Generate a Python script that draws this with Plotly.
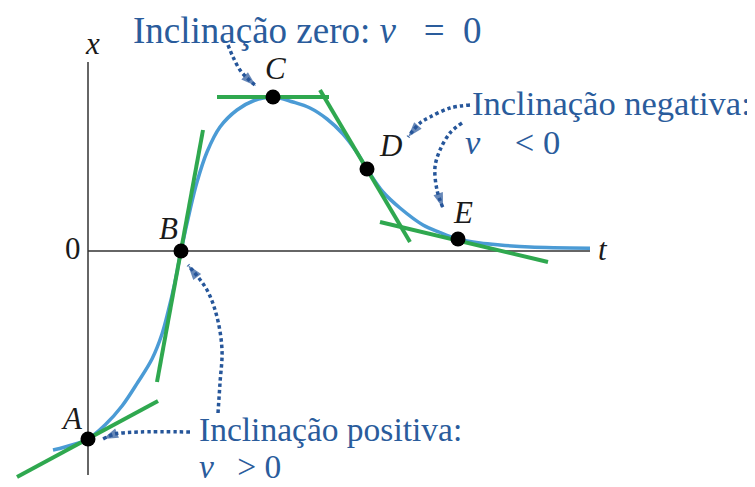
import plotly.graph_objects as go

# ---- data (t, x) in diagram units ----
curve_t = [-3.5, -2.3, 0.0, 1.7, 3.4, 5.0, 6.4, 7.4, 8.0, 8.7, 9.3,
           10.2, 10.9, 11.9, 13.2, 14.9, 16.5, 18.5,
           20.5, 22.2, 23.9, 25.5, 26.9, 27.9, 29.5, 31.2, 33.5, 35.2, 37.0,
           39.2, 41.2, 44.2, 50.2]
curve_x = [-19.9, -19.6, -18.8, -17.4, -15.5, -13.1, -10.8, -8.3, -6.1, -3.1, 0.0,
           4.1, 6.9, 9.9, 12.4, 14.1, 15.0, 15.4,
           14.9, 14.3, 13.2, 11.7, 9.85, 8.2, 5.9, 4.3, 2.6, 1.85, 1.2,
           0.8, 0.6, 0.4, 0.28]

point_names = ["A", "B", "C", "D", "E"]
point_t = [0.0, 9.3, 18.5, 27.9, 37.0]
point_x = [-18.8, 0.0, 15.4, 8.2, 1.2]

# tangent segments: (t0, x0) -> (t1, x1)
tangent_t0 = [-7.1, 6.9, 12.9, 23.2, 29.2]
tangent_x0 = [-22.6, -13.1, 15.4, 16.1, 2.9]
tangent_t1 = [7.0, 11.5, 24.1, 32.2, 46.0]
tangent_x1 = [-15.0, 12.1, 15.4, 0.9, -1.1]

label_t = [-1.6, 8.0, 18.7, 30.2, 37.5]
label_x = [-16.7, 2.3, 18.3, 10.6, 3.9]

arrow_paths = [
    ([14.0, 14.5, 15.2, 15.9, 16.8], [20.6, 19.4, 18.1, 17.3, 16.5]),
    ([38.2, 36.2, 34.2, 33.2, 32.0], [14.6, 14.3, 13.4, 12.8, 11.4]),
    ([37.4, 36.2, 35.2, 34.7, 34.9, 35.5], [12.8, 11.8, 10.1, 8.4, 6.1, 4.3]),
    ([10.2, 5.2, 2.7, 1.5], [-18.1, -18.1, -18.3, -18.8]),
    ([13.0, 13.2, 13.4, 12.9, 11.9, 10.0], [-16.2, -13.2, -9.9, -6.6, -3.9, -1.4]),
]

NB = "\u00a0"
texts = ["Inclinação zero: <i>v</i>" + NB * 3 + "= " + NB + "0",
         "Inclinação negativa:", "<i>v</i>" + NB * 4 + "< 0",
         "Inclinação positiva:", "<i>v</i>" + NB * 2 + "\u2009> 0"]
text_t = [4.3, 38.2, 37.5, 10.9, 10.9]
text_x = [24.3, 14.8, 10.9, -17.8, -23.6]
text_anchor = ["top", "middle", "middle", "middle", "bottom"]
text_size = [37, 34.5, 34.5, 33.5, 33.5]

axis_t_end = 50.2
axis_x_top = 18.9
axis_x_bottom = -22.4

BLUE = "#4b9bd5"
GREEN = "#2fa84f"
TXT = "#2a5c9c"
ARR = "#26569a"
SERIF = "Liberation Serif"

fig = go.Figure()

# axes
fig.add_trace(go.Scatter(x=[0, 0], y=[axis_x_bottom, axis_x_top], mode="lines",
                         line=dict(color="#333333", width=1.5), hoverinfo="skip"))
fig.add_trace(go.Scatter(x=[0, axis_t_end], y=[0, 0], mode="lines",
                         line=dict(color="#333333", width=1.5), hoverinfo="skip"))

# curve
fig.add_trace(go.Scatter(x=curve_t, y=curve_x, mode="lines",
                         line=dict(color=BLUE, width=3.5, shape="spline", smoothing=1.0),
                         hoverinfo="skip"))

# tangents
for a, b, c, d in zip(tangent_t0, tangent_x0, tangent_t1, tangent_x1):
    fig.add_trace(go.Scatter(x=[a, c], y=[b, d], mode="lines",
                             line=dict(color=GREEN, width=4), hoverinfo="skip"))

# points
fig.add_trace(go.Scatter(x=point_t, y=point_x, mode="markers",
                         marker=dict(color="black", size=15), hoverinfo="skip"))

# dotted arrows
for pt, px in arrow_paths:
    sizes = [0] * (len(pt) - 1) + [16]
    fig.add_trace(go.Scatter(x=pt, y=px, mode="lines+markers",
                             line=dict(color=ARR, width=3.5, dash="3.5px,3px", shape="spline"),
                             marker=dict(symbol="arrow", size=sizes, angleref="previous",
                                         color=ARR, line=dict(width=0)),
                             hoverinfo="skip"))

annotations = []
for name, lt, lx in zip(point_names, label_t, label_x):
    annotations.append(dict(x=lt, y=lx, text=f"<i>{name}</i>", showarrow=False,
                            font=dict(family=SERIF, size=31, color="#1a1a1a")))
annotations.append(dict(x=0.4, y=20.8, text="<i>x</i>", showarrow=False,
                        font=dict(family=SERIF, size=31, color="#1a1a1a")))
annotations.append(dict(x=51.5, y=0.2, text="<i>t</i>", showarrow=False,
                        font=dict(family=SERIF, size=31, color="#1a1a1a")))
annotations.append(dict(x=-1.5, y=0.3, text="0", showarrow=False,
                        font=dict(family=SERIF, size=31, color="#1a1a1a")))
for tx, tt, txx, ya, fs in zip(texts, text_t, text_x, text_anchor, text_size):
    annotations.append(dict(x=tt, y=txx, text=tx, showarrow=False, xanchor="left",
                            yanchor=ya, font=dict(family=SERIF, size=fs, color=TXT)))

fig.update_layout(
    width=747, height=479,
    margin=dict(l=0, r=0, t=0, b=0),
    paper_bgcolor="white", plot_bgcolor="white",
    showlegend=False,
    xaxis=dict(range=[-8.0, 66.7], visible=False),
    yaxis=dict(range=[-23.6, 24.3], visible=False),
    annotations=annotations,
)

fig.write_html("out.html")
